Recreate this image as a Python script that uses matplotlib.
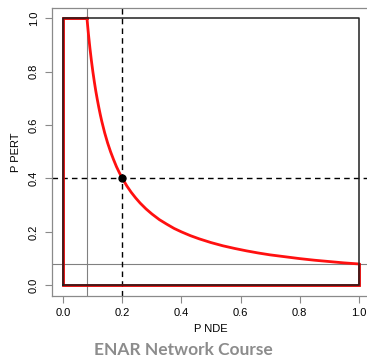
import matplotlib
matplotlib.use("Agg")
import matplotlib.pyplot as plt

# curve (P NDE vs P PERT)
p_nde = [0.080, 0.085, 0.090, 0.095, 0.100, 0.105, 0.110, 0.115, 0.120, 0.125,
         0.130, 0.135, 0.140, 0.150, 0.160, 0.170, 0.180, 0.190, 0.200, 0.215,
         0.230, 0.245, 0.260, 0.280, 0.300, 0.325, 0.350, 0.375, 0.400, 0.430,
         0.460, 0.500, 0.540, 0.580, 0.620, 0.660, 0.700, 0.750, 0.800, 0.850,
         0.900, 0.950, 1.000]
p_pert = [1.000, 0.941, 0.889, 0.842, 0.800, 0.762, 0.727, 0.696, 0.667, 0.640,
          0.615, 0.593, 0.571, 0.533, 0.500, 0.471, 0.444, 0.421, 0.400, 0.372,
          0.348, 0.327, 0.308, 0.286, 0.267, 0.246, 0.229, 0.213, 0.200, 0.186,
          0.174, 0.160, 0.148, 0.138, 0.129, 0.121, 0.114, 0.107, 0.100, 0.094,
          0.089, 0.084, 0.080]

# corners of the region outline
region_x = [0.08, 0.0, 0.0, 1.0, 1.0]
region_y = [1.0, 1.0, 0.0, 0.0, 0.08]

threshold = 0.08
point = (0.2, 0.4)
ticks = [0.0, 0.2, 0.4, 0.6, 0.8, 1.0]

plt.rcParams['font.family'] = ['Liberation Sans', 'DejaVu Sans']

fig = plt.figure(figsize=(3.67, 3.63), dpi=100)
ax = fig.add_axes([51.5 / 367, 1 - 296 / 363, 319 / 367, 288.5 / 363])
ax.set_xlim(-0.04, 1.04)
ax.set_ylim(-0.04, 1.04)

# gray threshold lines
ax.axvline(threshold, color='#808080', lw=0.8, zorder=1)
ax.axhline(threshold, color='#808080', lw=0.8, zorder=1)

# dashed guides
ax.axvline(point[0], color='black', lw=1.0, ls=(0, (4, 3)), zorder=2)
ax.axhline(point[1], color='black', lw=1.0, ls=(0, (4, 3)), zorder=2)

# red region outline and curve
ax.plot(region_x, region_y, color='#e00000', lw=2.0, solid_joinstyle='miter', zorder=3)
ax.plot(p_nde, p_pert, color='#ff1010', lw=2.0, zorder=3)
ax.plot([0, 1, 1, 0, 0], [0, 0, 1, 1, 0], color='#202020', lw=1.1, zorder=4)

ax.plot([point[0]], [point[1]], 'o', color='black', ms=5, zorder=5)

for s in ax.spines.values():
    s.set_color('#8a8a8a')
    s.set_linewidth(0.9)
ax.set_xticks(ticks)
ax.set_yticks(ticks)
ax.set_xticklabels(['%.1f' % t for t in ticks], fontsize=8)
ax.set_yticklabels(['%.1f' % t for t in ticks], fontsize=8, rotation=90, va='center')
ax.tick_params(direction='out', length=5, width=0.8, color='#8a8a8a', pad=4)
ax.set_xlabel('P NDE', fontsize=8, labelpad=4)
ax.set_ylabel('P PERT', fontsize=8, labelpad=6)

fig.text(0.5, 1 - 350 / 363, 'ENAR Network Course', ha='center', va='center',
         fontsize=12.5, fontweight='bold', color='#8c8c8c', family=['Lato', 'DejaVu Sans'])

fig.savefig('out.png', dpi=100)
